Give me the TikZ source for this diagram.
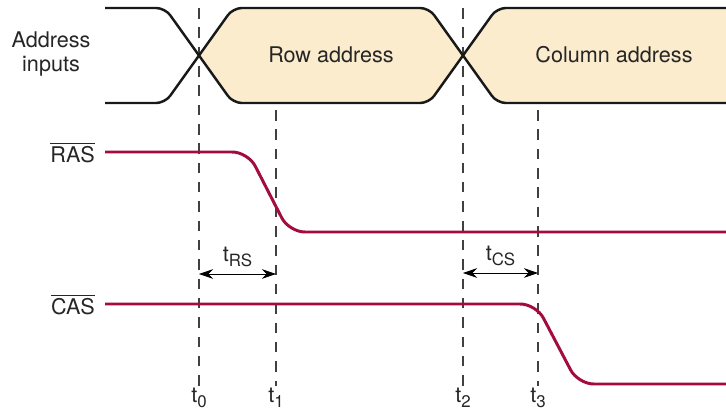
\documentclass[tikz,border=0pt]{standalone}
\usepackage{amsmath}
\usepackage{fontspec}
\setmainfont{TeX Gyre Heros}
\usetikzlibrary{arrows.meta}
\definecolor{buscream}{RGB}{250,236,204}
\definecolor{sigred}{RGB}{163,12,62}
\newcommand{\tsub}[1]{t\raisebox{-0.4ex}{\fontsize{9.6}{9.6}\selectfont #1}}

\begin{document}
\begin{tikzpicture}[x=0.02cm,y=-0.02cm,font=\fontsize{12.3}{13.6}\selectfont,
  >={Stealth[length=8pt,width=5.5pt]},
  bus/.style={line width=1.4pt,black!90,rounded corners=5pt},
  sig/.style={line width=1.7pt,sigred,rounded corners=9pt},
  guide/.style={black!75,line width=0.6pt,dash pattern=on 6pt off 5pt},
  lbl/.style={text=black!85,inner sep=1pt}]
  \useasboundingbox (0,0) rectangle (726,412);
  % time marks
  \foreach \n/\x/\y in {0/199/8,1/276/110,2/463/8,3/538/110} {
    \node[lbl] (t\n) at (\x,398) {\tsub{\n}};
    \coordinate (g\n) at (\x,\y);
    \draw[guide] (g\n) -- (t\n.north);
  }
  % address bus
  \begin{scope}
    \clip (199,0) rectangle (463,110);
    \fill[buscream,rounded corners=5pt,even odd rule] (165,8) -- (233,103) -- (429,103) -- (497,8)
      -- (497,103) -- (429,8) -- (233,8) -- (165,103) -- cycle;
  \end{scope}
  \begin{scope}
    \clip (463,0) rectangle (726,110);
    \fill[buscream,rounded corners=5pt,even odd rule] (429,8) -- (497,103) -- (760,103) -- (760,8)
      -- (497,8) -- (429,103) -- cycle;
  \end{scope}
  \draw[bus] (105,8) -- (165,8) -- (233,103) -- (429,103) -- (497,8) -- (740,8);
  \draw[bus] (105,103) -- (165,103) -- (233,8) -- (429,8) -- (497,103) -- (740,103);
  \node[lbl,align=center] (addr) at (51,54) {Address\\inputs};
  \node[lbl] (row) at (331,55) {Row address};
  \node[lbl] (col) at (614,55) {Column address};
  % strobes
  \node[lbl,anchor=east] (ras) at (97,153) {$\overline{\text{RAS}}$};
  \node[lbl,anchor=east] (cas) at (97,305) {$\overline{\text{CAS}}$};
  \draw[sig] (105,152) -- (248,152) -- (289,232) -- (740,232);
  \draw[sig] (105,304) -- (536,304) -- (578,384) -- (740,384);
  % setup times
  \coordinate (rs) at (0,274);
  \coordinate (cs) at (0,273);
  \draw[<->,thin] (g0 |- rs) -- (g1 |- rs) node[lbl,midway,above=3pt] {\tsub{RS}};
  \draw[<->,thin] (g2 |- cs) -- (g3 |- cs) node[lbl,midway,above=3pt] {\tsub{CS}};
\end{tikzpicture}
\end{document}
